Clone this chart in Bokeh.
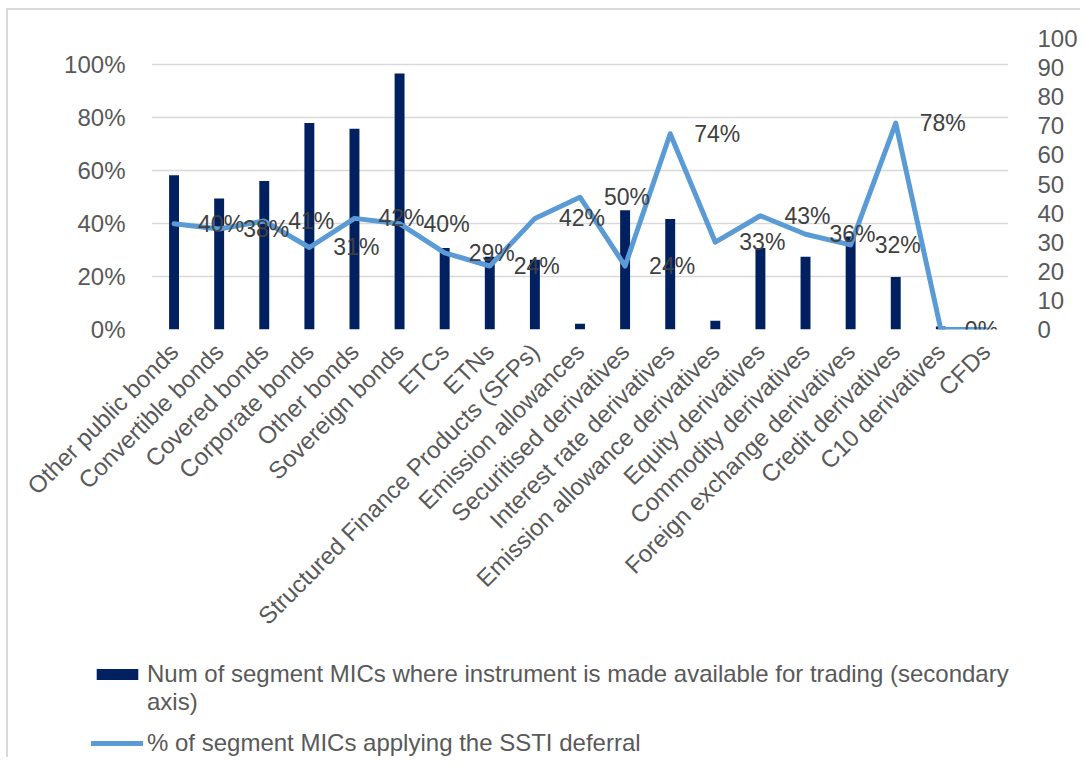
import math
from bokeh.plotting import figure
from bokeh.layouts import column
from bokeh.models import (ColumnDataSource, FactorRange, Range1d, LinearAxis, FixedTicker,
                          PrintfTickFormatter, Legend, LegendItem)
from bokeh.core.properties import value
from bokeh.embed import file_html
from bokeh.resources import INLINE

# ---- data ----
categories = ["Other public bonds", "Convertible bonds", "Covered bonds", "Corporate bonds",
              "Other bonds", "Sovereign bonds", "ETCs", "ETNs",
              "Structured Finance Products (SFPs)", "Emission allowances",
              "Securitised derivatives", "Interest rate derivatives",
              "Emission allowance derivatives", "Equity derivatives",
              "Commodity derivatives", "Foreign exchange derivatives",
              "Credit derivatives", "C10 derivatives", "CFDs"]
num_mics = [53, 45, 51, 71, 69, 88, 28, 25, 24, 2, 41, 38, 3, 28, 25, 32, 18, 1, 0]
pct_ssti = [40, 38, 41, 31, 42, 40, 29, 24, 42, 50, 24, 74, 33, 43, 36, 32, 78, 0, 0]
left_ticks = [0, 20, 40, 60, 80, 100]
right_ticks = [0, 10, 20, 30, 40, 50, 60, 70, 80, 90, 100]
bar_label_lines = ["Num of segment MICs where instrument is made available for trading (secondary",
                   "axis)"]
line_label = "% of segment MICs applying the SSTI deferral"

FONT = "Liberation Sans"
NAVY = "#002060"
BLUE = "#5B9BD5"
GREY = "#595959"

src = ColumnDataSource(dict(cat=categories, num=num_mics, pct=pct_ssti,
                            lab=[f"{v}%" for v in pct_ssti]))

W, H1, H2 = 1072, 640, 107
p = figure(width=W, height=H1, x_range=FactorRange(factors=categories),
           y_range=Range1d(0, 110), output_backend="svg", toolbar_location=None,
           min_border_left=143, min_border_right=70, min_border_top=28,
           min_border_bottom=321)
p.extra_y_ranges = {"right": Range1d(0, 100)}
p.outline_line_color = None
p.background_fill_color = "white"
p.border_fill_color = "white"

bars = p.vbar(x="cat", top="num", width=0.22, source=src, y_range_name="right",
              fill_color=NAVY, line_color=None)
line = p.line(x="cat", y="pct", source=src, line_color=BLUE, line_width=5,
              line_join="round", line_cap="round")
p.text(x="cat", y="pct", text="lab", source=src, x_offset=24, text_align="left",
       text_baseline="middle", text_font=value(FONT), text_font_size="23px",
       text_color="#404040")

# axes
p.yaxis.ticker = FixedTicker(ticks=left_ticks)
p.yaxis.formatter = PrintfTickFormatter(format="%d%%")
ra = LinearAxis(y_range_name="right", ticker=FixedTicker(ticks=right_ticks))
p.add_layout(ra, "right")

for ax in [p.yaxis[0], ra, p.xaxis[0]]:
    ax.axis_line_color = None
    ax.major_tick_line_color = None
    ax.minor_tick_line_color = None
    ax.major_label_text_font = FONT
    ax.major_label_text_font_size = "24px"
    ax.major_label_text_color = GREY
p.yaxis[0].major_label_standoff = 20
ra.major_label_standoff = 23
p.xaxis[0].major_label_orientation = math.pi / 4
p.xaxis[0].major_label_standoff = 12

p.xgrid.grid_line_color = None
p.ygrid.grid_line_color = "#D9D9D9"
p.ygrid.grid_line_width = 1.5

# ---- legend panel below the chart ----
lp = figure(width=W, height=H2, x_range=Range1d(0, 1), y_range=Range1d(0, 1),
            output_backend="svg", toolbar_location=None, min_border=0,
            x_axis_location=None, y_axis_location=None)
try:
    lp.frame_align = False
except AttributeError:
    pass
lp.grid.visible = False
lp.outline_line_color = None
# off-screen proxies so the legend can draw its swatches
lbars = lp.vbar(x=[5], top=[5], bottom=[4], width=0.2, fill_color=NAVY, line_color=None)
lblank = lp.vbar(x=[5], top=[5], bottom=[4], width=0.2, fill_alpha=0, line_alpha=0)
lline = lp.line(x=[5, 6], y=[5, 5], line_color=BLUE, line_width=5, line_cap="round")

common = dict(orientation="vertical", label_text_font=FONT, label_text_font_size="24px",
              label_text_color=GREY, glyph_width=52, glyph_height=14,
              label_standoff=4, padding=0, margin=0,
              border_line_color=None, background_fill_alpha=0)
legend_a = Legend(items=[LegendItem(label=bar_label_lines[0], renderers=[lbars]),
                         LegendItem(label=bar_label_lines[1], renderers=[lblank])],
                  location=(83, 41), spacing=0, **common)
legend_b = Legend(items=[LegendItem(label=line_label, renderers=[lline])],
                  location=(83, 0), spacing=0, **common)
lp.add_layout(legend_a, "center")
lp.add_layout(legend_b, "center")

layout = column(p, lp, spacing=0,
                styles={"margin-left": "6px", "margin-top": "8px",
                        "border-left": "2px solid #D9D9D9",
                        "border-top": "2px solid #D9D9D9"})

open("out.html", "w").write(file_html(layout, INLINE))
